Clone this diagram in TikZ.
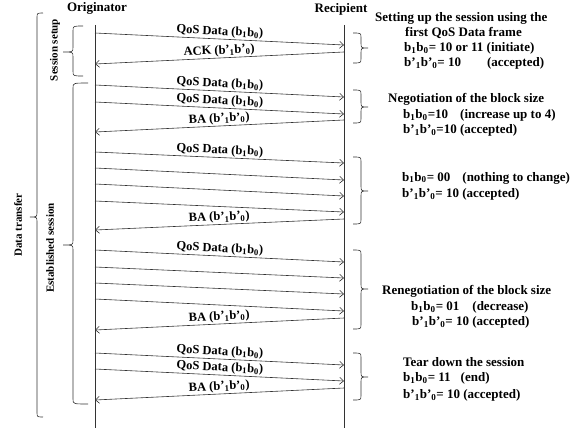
\documentclass[tikz,border=0pt]{standalone}
\usepackage{fontspec}
\setmainfont{Liberation Serif}
\usetikzlibrary{arrows.meta}
\newcommand\BraceShape[6]{% xend xvert xtip ytop ymid ybot
  \draw[bracestyle] (#1,#4) .. controls (#2,#4) .. (#2,{#4+5}) -- (#2,{#5-5})
    .. controls (#2,#5) .. (#3,#5) .. controls (#2,#5) .. (#2,{#5+5})
    -- (#2,{#6-5}) .. controls (#2,#6) .. (#1,#6);}
\newcommand\bsub[1]{\textsubscript{#1}}
\begin{document}
\begin{tikzpicture}[x=1pt,y=-1pt,
  lifeline/.style={draw=black!80, line width=0.7pt},
  msg/.style={draw=black!80, line width=0.6pt, -{Straight Barb[length=4pt,width=7pt]}},
  rmsg/.style={draw=black!80, line width=0.6pt, {Straight Barb[length=4pt,width=7pt]}-},
  bracestyle/.style={draw=black!80, line width=0.6pt},
  lbl/.style={midway, above, sloped, inner sep=1pt, font=\bfseries\fontsize{12.5}{14}\selectfont},
  head/.style={inner sep=0pt, font=\bfseries\fontsize{13}{15}\selectfont},
  side/.style={anchor=west, inner sep=0pt, font=\bfseries\fontsize{13}{15}\selectfont},
  vlab/.style={rotate=90, inner sep=0pt, font=\bfseries\fontsize{11}{13}\selectfont}]
\useasboundingbox (0,0) rectangle (585,428);

% headers and lifelines
\node[head] (orig) at (97,8) {Originator};
\node[head] (recip) at (341,9) {Recipient};
\coordinate (otop) at (95,25);
\coordinate (obot) at (95,428);
\coordinate (rtop) at (344,25);
\coordinate (rbot) at (344,428);
\draw[lifeline] (otop) -- (obot);
\draw[lifeline] (rtop) -- (rbot);

% message end points
\foreach \n/\yo/\yr in {1/33/45, 2/64/52, 3/85/97, 4/102/114, 5/132/120,
  6/152/163, 7/168/180, 8/184/196, 9/201/212, 10/230/219,
  11/250/262, 12/267/278, 13/283/294, 14/299/311, 15/330/318,
  16/353/365, 17/369/381, 18/400/388}{
  \coordinate (o\n) at (95,\yo);
  \coordinate (r\n) at (344,\yr);
}

% session setup
\draw[msg] (o1) -- node[lbl] {QoS Data (b\bsub{1}b\bsub{0})} (r1);
\draw[rmsg] (o2) -- node[lbl] {ACK (b’\bsub{1}b’\bsub{0})} (r2);
% negotiation
\draw[msg] (o3) -- node[lbl] {QoS Data (b\bsub{1}b\bsub{0})} (r3);
\draw[msg] (o4) -- node[lbl] {QoS Data (b\bsub{1}b\bsub{0})} (r4);
\draw[rmsg] (o5) -- node[lbl] {BA (b’\bsub{1}b’\bsub{0})} (r5);
% nothing to change
\draw[msg] (o6) -- node[lbl] {QoS Data (b\bsub{1}b\bsub{0})} (r6);
\draw[msg] (o7) -- (r7);
\draw[msg] (o8) -- (r8);
\draw[msg] (o9) -- (r9);
\draw[rmsg] (o10) -- node[lbl] {BA (b’\bsub{1}b’\bsub{0})} (r10);
% renegotiation
\draw[msg] (o11) -- node[lbl] {QoS Data (b\bsub{1}b\bsub{0})} (r11);
\draw[msg] (o12) -- (r12);
\draw[msg] (o13) -- (r13);
\draw[msg] (o14) -- (r14);
\draw[rmsg] (o15) -- node[lbl] {BA (b’\bsub{1}b’\bsub{0})} (r15);
% tear down
\draw[msg] (o16) -- node[lbl] {QoS Data (b\bsub{1}b\bsub{0})} (r16);
\draw[msg] (o17) -- node[lbl] {QoS Data (b\bsub{1}b\bsub{0})} (r17);
\draw[rmsg] (o18) -- node[lbl] {BA (b’\bsub{1}b’\bsub{0})} (r18);

% right braces
\BraceShape{353}{361}{368}{33}{48}{63}
\BraceShape{353}{361}{368}{90}{107}{123}
\BraceShape{353}{361}{368}{157}{191}{224}
\BraceShape{353}{361}{368}{250}{289}{329}
\BraceShape{353}{361}{368}{353}{377}{400}

% left braces
\BraceShape{43}{37}{30}{13}{217}{417}
\BraceShape{83}{73}{63}{26}{52}{76}
\BraceShape{88}{73}{63}{83}{245}{404}

% vertical labels
\node[vlab] (dt) at (18,225) {Data transfer};
\node[vlab] (ss) at (55,50) {Session setup};
\node[vlab] (es) at (50,248) {Established session};

% descriptions
\node[side] (t1a) at (375,18) {Setting up the session using the};
\node[side] (t1b) at (405,33) {first QoS Data frame};
\node[side] (t1c) at (404,48) {b\bsub{1}b\bsub{0}= 10 or 11 (initiate)};
\node[side] (t1d) at (404,63) {b’\bsub{1}b’\bsub{0}= 10\hspace{26pt}(accepted)};

\node[side] (t2a) at (388,99) {Negotiation of the block size};
\node[side] (t2b) at (403,115) {b\bsub{1}b\bsub{0}=10\hspace{12pt}(increase up to 4)};
\node[side] (t2c) at (403,130) {b’\bsub{1}b’\bsub{0}=10 (accepted)};

\node[side] (t3a) at (402,178) {b\bsub{1}b\bsub{0}= 00\hspace{12pt}(nothing to change)};
\node[side] (t3b) at (402,194) {b’\bsub{1}b’\bsub{0}= 10 (accepted)};

\node[side] (t4a) at (382,291) {Renegotiation of the block size};
\node[side] (t4b) at (411,307) {b\bsub{1}b\bsub{0}= 01\hspace{13pt}(decrease)};
\node[side] (t4c) at (412,322) {b’\bsub{1}b’\bsub{0}= 10 (accepted)};

\node[side] (t5a) at (403,362) {Tear down the session};
\node[side] (t5b) at (403,378) {b\bsub{1}b\bsub{0}= 11\hspace{10pt}(end)};
\node[side] (t5c) at (403,395) {b’\bsub{1}b’\bsub{0}= 10 (accepted)};
\end{tikzpicture}
\end{document}
